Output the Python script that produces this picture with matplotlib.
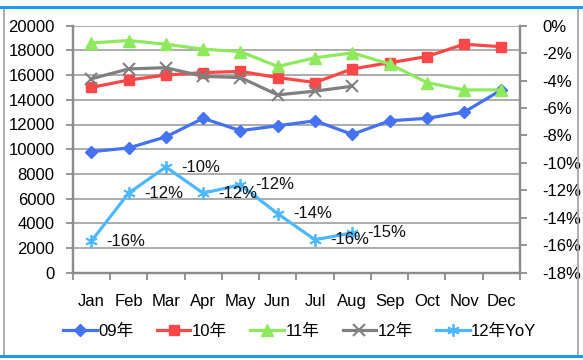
import matplotlib
matplotlib.use('Agg')
import matplotlib.pyplot as plt
from matplotlib.lines import Line2D
from matplotlib.ticker import FuncFormatter, MultipleLocator, FixedLocator

plt.rcParams['font.family'] = ['Liberation Sans', 'Noto Sans CJK SC', 'DejaVu Sans']

### Data ###
months = ['Jan', 'Feb', 'Mar', 'Apr', 'May', 'Jun', 'Jul', 'Aug', 'Sep', 'Oct', 'Nov', 'Dec']
s09 = [9800, 10100, 11000, 12500, 11500, 11900, 12300, 11200, 12300, 12500, 13000, 14800]
s10 = [15000, 15600, 16000, 16200, 16300, 15800, 15400, 16500, 17000, 17500, 18500, 18300]
s11 = [18600, 18800, 18500, 18100, 17900, 16700, 17400, 17800, 16900, 15400, 14800, 14800]
s12 = [15700, 16500, 16600, 15900, 15800, 14400, 14700, 15100]
yoy12 = [-15.7, -12.2, -10.3, -12.2, -11.6, -13.7, -15.6, -15.1]
yoy_labels = ['-16%', '-12%', '-10%', '-12%', '-12%', '-14%', '-16%', '-15%']
names = ['09年', '10年', '11年', '12年', '12年YoY']

### Styles ###
c09 = '#4472F0'
c10 = '#FF4747'
c11 = '#8EEA5C'
c12 = '#808080'
cyoy = '#4DB8FF'
grid_c = '#A6A6A6'
axis_c = '#8C8C8C'
fs = 12
star = (6, 2, 0)

fig = plt.figure(figsize=(5.83, 3.6), dpi=100)
ax = fig.add_axes([72.7/583, 1-272.7/360, (520-72.7)/583, (272.7-25.7)/360])
ax2 = ax.twinx()

x = list(range(len(months)))
lw = 2.3
ax.plot(x, s09, color=c09, lw=lw, marker='D', ms=6.5, zorder=3)
ax.plot(x, s10, color=c10, lw=lw, marker='s', ms=7.5, zorder=3)
ax.plot(x, s11, color=c11, lw=lw, marker='^', ms=8, zorder=3)
ax.plot(x[:len(s12)], s12, color=c12, lw=lw, marker='x', ms=8, mew=1.5, zorder=3)
ax2.plot(x[:len(yoy12)], yoy12, color=cyoy, lw=lw, marker=star, ms=9, mew=1.3, zorder=3)
for i, (v, t) in enumerate(zip(yoy12, yoy_labels)):
    ax2.annotate(t, (i, v), xytext=(11, 0), textcoords='offset points',
                 ha='left', va='center', fontsize=fs, color='#111111')

# left axis
ax.set_ylim(0, 20000)
ax.yaxis.set_major_locator(MultipleLocator(2000))
ax.grid(axis='y', color=grid_c, lw=1.3)
ax.set_axisbelow(True)
ax.set_xlim(-0.5, 11.5)
ax.xaxis.set_major_locator(FixedLocator([i - 0.5 for i in range(13)]))
ax.xaxis.set_major_formatter(FuncFormatter(lambda v, p: ''))
ax.set_xticks(x, minor=True)
ax.set_xticklabels(months, minor=True)
ax.tick_params(axis='x', which='major', length=5, width=1.3, color=axis_c, direction='out')
ax.tick_params(axis='x', which='minor', length=0, pad=15, labelsize=fs)
ax.tick_params(axis='y', length=5, width=1.3, color=axis_c, labelsize=fs, pad=8)

# right axis
ax2.set_ylim(-18, 0)
ax2.yaxis.set_major_locator(MultipleLocator(2))
ax2.yaxis.set_major_formatter(FuncFormatter(lambda v, p: '%d%%' % round(v)))
ax2.tick_params(axis='y', length=5, width=1.3, color=axis_c, labelsize=fs, pad=11)

for a in (ax, ax2):
    for sp in ('left', 'right', 'bottom'):
        a.spines[sp].set_color(axis_c)
        a.spines[sp].set_linewidth(1.6)
    a.spines['top'].set_visible(False)

# legend
handles = [
    Line2D([], [], color=c09, lw=lw, marker='D', ms=6.5),
    Line2D([], [], color=c10, lw=lw, marker='s', ms=7.5),
    Line2D([], [], color=c11, lw=lw, marker='^', ms=8),
    Line2D([], [], color=c12, lw=lw, marker='x', ms=8, mew=1.5),
    Line2D([], [], color=cyoy, lw=lw, marker=star, ms=9, mew=1.3),
]
fig.legend(handles, names, loc='center', bbox_to_anchor=(300/583, 1-331/360), ncol=5,
           frameon=False, fontsize=fs, handlelength=2.0, handletextpad=0.1,
           columnspacing=1.4, borderpad=0)

# outer frame
fig.add_artist(Line2D([4/583, 4/583], [1-7/360, 1-355/360], color='#A0A0A0', lw=1.2, transform=fig.transFigure))
fig.add_artist(Line2D([578/583, 578/583], [1-7/360, 1-355/360], color='#A0A0A0', lw=1.2, transform=fig.transFigure))
fig.add_artist(Line2D([0, 1], [1-7/360, 1-7/360], color='#1E9BE8', lw=2.2, transform=fig.transFigure))
fig.add_artist(Line2D([0, 1], [1-355.5/360, 1-355.5/360], color='#1E9BE8', lw=2.2, transform=fig.transFigure))

fig.savefig('out.png', dpi=100)
